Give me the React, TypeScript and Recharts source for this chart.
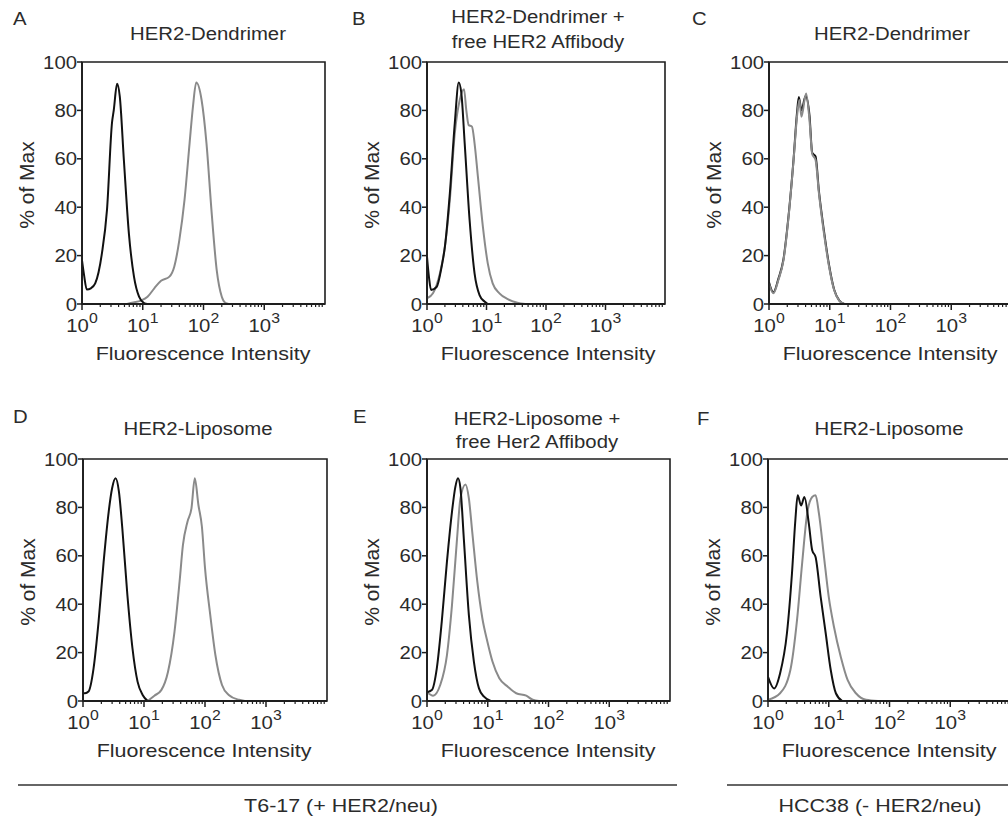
import React from 'react';
import { LineChart, Line, XAxis, YAxis, ReferenceArea } from 'recharts';

// x = fluorescence intensity, y = % of max
type Pair = [number, number];

// A: HER2-Dendrimer, T6-17
const aControl: Pair[] = [[1, 18], [1.08, 12], [1.2, 6], [1.4, 6.5], [1.65, 8.5], [2.13, 21], [2.58, 39], [3.12, 75], [3.33, 80], [3.78, 91], [4.19, 85.7], [4.89, 59.5], [5.92, 29], [7.17, 11.3], [8.69, 3], [10.5, 0.4], [12, 0]];
const aBound: Pair[] = [[5.5, 0], [7, 0.6], [9.3, 1.4], [12, 3], [15.5, 6.5], [20, 9.6], [27.5, 11.3], [33, 15.4], [40, 26.4], [48.7, 43], [59, 66.4], [67, 81.5], [76, 91.5], [93, 84.3], [112, 66.4], [135, 39], [165, 14], [200, 3], [228, 0.5], [260, 0]];

// B: HER2-Dendrimer + free HER2 Affibody, T6-17
const bControl: Pair[] = [[1, 19.5], [1.08, 11], [1.17, 5.8], [1.45, 7], [1.76, 15.4], [2.0, 23.7], [2.42, 45.7], [2.93, 74.7], [3.42, 91.5], [3.78, 87], [4.3, 66.4], [5.2, 34.7], [6.3, 12.7], [7.64, 3.7], [9.26, 1], [10.5, 0]];
const bBound: Pair[] = [[1, 2.3], [1.26, 4.4], [1.65, 12.7], [2.0, 23.7], [2.42, 43], [2.93, 70.5], [3.55, 84.3], [4.19, 88.7], [4.58, 80], [5.0, 74], [5.7, 73.3], [6.3, 66.4], [7.17, 52.6], [8.69, 32], [10.5, 16.8], [12.7, 8.5], [16.5, 4.4], [22.8, 2], [33, 0.5], [45, 0]];

// C: HER2-Dendrimer, HCC38
const cControl: Pair[] = [[1, 9], [1.18, 4.8], [1.43, 10.5], [1.73, 18.5], [2.1, 36.5], [2.54, 60], [2.89, 79], [3.1, 85.5], [3.42, 80], [4.0, 86], [4.64, 78], [5.14, 62.5], [5.84, 61], [6.64, 46.5], [8.05, 30], [9.75, 16], [11.8, 6], [14.3, 1.5], [17.3, 0]];
const cBound: Pair[] = [[1, 8.5], [1.18, 4.4], [1.43, 10], [1.73, 18], [2.1, 36], [2.54, 59.5], [2.89, 77.4], [3.16, 84.3], [3.42, 77.4], [4.08, 87], [4.64, 76], [5.14, 62], [5.84, 59.5], [6.64, 45.7], [8.05, 29], [9.75, 15.4], [11.8, 5.8], [14.3, 1.4], [17.3, 0]];

// D: HER2-Liposome, T6-17
const dControl: Pair[] = [[1, 3.2], [1.08, 3.2], [1.23, 3.9], [1.49, 13.5], [1.8, 32.8], [2.18, 57.6], [2.64, 78.3], [3.0, 87.9], [3.42, 92], [3.88, 86.5], [4.41, 71.4], [5.34, 43.8], [6.47, 21.8], [7.84, 8], [9.5, 2.5], [11.5, 0]];
const dBound: Pair[] = [[11.5, 0], [14.8, 2.2], [19.2, 4.5], [24.7, 12], [31.6, 28.6], [38.3, 49.3], [43.5, 64.5], [51.5, 74], [60, 79.6], [68, 92], [78, 81], [89, 72], [100, 55], [122, 35.5], [148, 19], [190, 6.6], [245, 2.5], [360, 0.5], [450, 0]];

// E: HER2-Liposome + free Her2 Affibody, T6-17
const eControl: Pair[] = [[1, 3.6], [1.2, 4.5], [1.45, 13.5], [1.75, 32.8], [2.13, 57.6], [2.58, 78.3], [2.93, 88.5], [3.24, 92], [3.55, 88], [4.04, 67], [4.89, 35.5], [5.92, 16.2], [7.17, 5.2], [8.69, 1.8], [11.2, 0]];
const eBound: Pair[] = [[1, 3.6], [1.26, 2.2], [1.65, 6.6], [2.13, 19], [2.58, 39.7], [3.12, 67], [3.55, 83.7], [4.3, 89.5], [4.89, 83.7], [5.55, 70], [6.73, 49.3], [8.15, 34.2], [9.87, 24.5], [12, 16.2], [15.5, 9.4], [21.4, 5.9], [29.4, 3.2], [43, 2.2], [55, 0.5], [70, 0]];

// F: HER2-Liposome, HCC38
const fControl: Pair[] = [[1, 10], [1.26, 5.2], [1.58, 11.4], [2.05, 28], [2.48, 52.7], [2.82, 74.7], [3.08, 85], [3.5, 80.8], [3.98, 84.3], [4.7, 73.3], [5.34, 62.3], [6.07, 59.5], [7.36, 43], [8.91, 28], [10.8, 12.7], [13.1, 3.2], [16.7, 0]];
const fBound: Pair[] = [[1, 0.5], [1.58, 3.2], [2.33, 12.7], [3.0, 33.3], [3.64, 56.7], [4.41, 77.4], [5.34, 84.3], [6.07, 85], [6.9, 77.4], [8.36, 59.5], [10, 43], [12.2, 30.6], [15.8, 18.2], [20.5, 8.6], [28, 3.2], [41, 0.5], [65, 0]];

const majorTicks = [1, 10, 100, 1000];
const minorSteps = [2, 3, 4, 5, 6, 7, 8, 9];
const yTicks = [0, 20, 40, 60, 80, 100];

const xTicks = [...majorTicks, ...majorTicks.flatMap((d) => minorSteps.map((m) => d * m))].sort((a, b) => a - b);

const toPts = (p: Pair[]) => p.map(([x, y]) => ({ x, y }));

const FONT = '"Liberation Sans", Arial, Helvetica, sans-serif';
const INK = '#2b2b2b';
const AXIS = '#1e1e1e';
const SX = 1.13; // the figure text is drawn a bit wide
const PLOT_H = 242;

const panels = [
  { key: 'A', title: ['HER2-Dendrimer'], left: 82, top: 62, w: 243, letterX: 13, letterY: 25, titleX: 208, titleY: [40], control: aControl, bound: aBound, grayOnTop: false },
  { key: 'B', title: ['HER2-Dendrimer +', 'free HER2 Affibody'], left: 427, top: 62, w: 238, letterX: 352, letterY: 25, titleX: 538, titleY: [23, 48], control: bControl, bound: bBound, grayOnTop: false },
  { key: 'C', title: ['HER2-Dendrimer'], left: 769, top: 62, w: 243, letterX: 692, letterY: 25, titleX: 892, titleY: [40], control: cControl, bound: cBound, grayOnTop: true },
  { key: 'D', title: ['HER2-Liposome'], left: 83, top: 459, w: 244, letterX: 13, letterY: 423, titleX: 198, titleY: [435], control: dControl, bound: dBound, grayOnTop: false },
  { key: 'E', title: ['HER2-Liposome +', 'free Her2 Affibody'], left: 427, top: 459, w: 243, letterX: 353, letterY: 423, titleX: 537, titleY: [425, 448], control: eControl, bound: eBound, grayOnTop: false },
  { key: 'F', title: ['HER2-Liposome'], left: 768, top: 459, w: 243, letterX: 697, letterY: 425, titleX: 889, titleY: [435], control: fControl, bound: fBound, grayOnTop: false },
];

function WideText({ x, y, size, anchor = 'middle', children }: any) {
  return (
    <text
      transform={`translate(${x},${y}) scale(${SX},1)`}
      fontSize={size}
      fontFamily={FONT}
      textAnchor={anchor}
      fill={INK}
    >
      {children}
    </text>
  );
}

function XTick(props: any) {
  const { x, y, payload } = props;
  const v = payload.value;
  if (!majorTicks.includes(v)) {
    return <line x1={x} x2={x} y1={y} y2={y + 3} stroke={AXIS} strokeWidth={1.2} />;
  }
  const exp = Math.round(Math.log10(v));
  return (
    <g>
      <line x1={x} x2={x} y1={y} y2={y + 6} stroke={AXIS} strokeWidth={1.5} />
      <text
        transform={`translate(${x},${y + 28}) scale(${SX},1)`}
        fontSize={18}
        fontFamily={FONT}
        textAnchor="middle"
        fill={INK}
      >
        10<tspan dy={-9} fontSize={14}>{exp}</tspan>
      </text>
    </g>
  );
}

function YTick(props: any) {
  const { x, y, payload } = props;
  return (
    <WideText x={x} y={y + 6.5} size={18} anchor="end">
      {payload.value}
    </WideText>
  );
}

function Panel({ p }: { p: (typeof panels)[number] }) {
  const ml = 20;
  const yw = 60;
  const mt = 60;
  const xh = 40;
  const width = ml + yw + p.w + 10;
  const height = mt + PLOT_H + xh;
  const grayLine = (
    <Line key="g" data={toPts(p.bound)} dataKey="y" type="monotone" stroke="#8a8a8a" strokeWidth={2} dot={false} isAnimationActive={false} />
  );
  const blackLine = (
    <Line key="b" data={toPts(p.control)} dataKey="y" type="monotone" stroke="#111111" strokeWidth={2} dot={false} isAnimationActive={false} />
  );
  return (
    <div style={{ position: 'absolute', left: p.left - ml - yw, top: p.top - mt }}>
      <LineChart width={width} height={height} margin={{ top: mt, right: 10, left: ml, bottom: 0 }}>
        <XAxis
          dataKey="x"
          type="number"
          scale="log"
          domain={[1, 10000]}
          allowDataOverflow
          ticks={xTicks}
          interval={0}
          height={xh}
          tickSize={0}
          tickMargin={0}
          tickLine={false}
          tick={<XTick />}
          axisLine={{ stroke: AXIS, strokeWidth: 1.8 }}
        />
        <YAxis
          dataKey="y"
          type="number"
          domain={[0, 100]}
          ticks={yTicks}
          interval={0}
          width={yw}
          tickSize={5}
          tickMargin={0}
          tickLine={{ stroke: AXIS, strokeWidth: 1.5 }}
          tick={<YTick />}
          axisLine={{ stroke: AXIS, strokeWidth: 1.8 }}
        />
        <ReferenceArea x1={1} x2={10000} y1={0} y2={100} fill="none" stroke={AXIS} strokeWidth={1.6} />
        {p.grayOnTop ? [blackLine, grayLine] : [grayLine, blackLine]}
      </LineChart>
    </div>
  );
}

export default function App() {
  return (
    <div style={{ position: 'absolute', left: 0, top: 0, width: 1008, height: 817, overflow: 'hidden', background: '#fff', fontFamily: FONT }}>
      {panels.map((p) => (
        <Panel key={p.key} p={p} />
      ))}
      <svg width={1008} height={817} style={{ position: 'absolute', left: 0, top: 0, pointerEvents: 'none' }}>
        {panels.map((p) => (
          <g key={p.key}>
            <WideText x={p.letterX} y={p.letterY} size={18} anchor="start">{p.key}</WideText>
            {p.title.map((t, i) => (
              <WideText key={t} x={p.titleX} y={p.titleY[i]} size={18}>{t}</WideText>
            ))}
            <text
              transform={`translate(${p.left - 48},${p.top + PLOT_H / 2 + 2}) rotate(-90)`}
              fontSize={21}
              fontFamily={FONT}
              textAnchor="middle"
              fill={INK}
            >
              % of Max
            </text>
            <WideText x={p.left + 121} y={p.top + PLOT_H + 56} size={19}>Fluorescence Intensity</WideText>
          </g>
        ))}
        <line x1={18} x2={677} y1={785} y2={785} stroke="#333" strokeWidth={1.5} />
        <line x1={727} x2={1008} y1={785} y2={785} stroke="#333" strokeWidth={1.5} />
        <WideText x={341} y={812} size={19}>T6-17 (+ HER2/neu)</WideText>
        <WideText x={880} y={812} size={19}>HCC38 (- HER2/neu)</WideText>
      </svg>
    </div>
  );
}
